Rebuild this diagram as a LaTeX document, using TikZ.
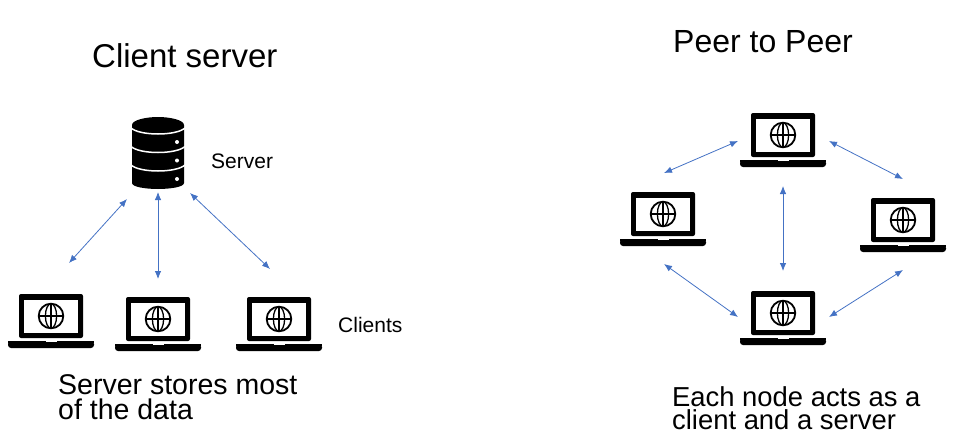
\documentclass[tikz,border=0pt]{standalone}
\usepackage{fontspec}
\setmainfont{Liberation Sans}
\usetikzlibrary{arrows.meta}
\definecolor{linkblue}{HTML}{4472C4}
\tikzset{
  x=1pt,y=-1pt,
  link/.style={linkblue,line width=0.8pt,{Latex[length=8pt,width=6.5pt]}-{Latex[length=8pt,width=6.5pt]}},
  txt/.style={anchor=base west,inner sep=0pt,text=black},
  labelfont/.style={font=\fontsize{21}{24}\selectfont},
  captionbox/.style={align=left,anchor=south west,inner sep=0pt,text=black},
  laptop/.pic={
    \fill[black,rounded corners=2pt] (-32,44) -- (-32,0) -- (32,0) -- (32,44) -- cycle;
    \fill[white] (-27,5.5) rectangle (27,38.5);
    \fill[black,rounded corners=3pt] (-43,47) -- (-43,54) -- (43,54) -- (43,47) -- cycle;
    \fill[black] (-43,47) rectangle (43,49);
    \fill[white] (-5.5,47) rectangle (5.5,48.3);
    \draw[black,line width=1.8pt] (0,22) circle (12.3);
    \draw[black,line width=1.3pt] (0,22) ellipse (5.6 and 12.3);
    \draw[black,line width=1.3pt] (0,9.7) -- (0,34.3) (-12.3,22) -- (12.3,22);
  }
}
\begin{document}
\begin{tikzpicture}
\useasboundingbox (0,0) rectangle (963,442);
% titles
\node[txt,font=\fontsize{33}{36}\selectfont] (ctitle) at (92,67) {Client server};
\node[txt,font=\fontsize{32}{36}\selectfont] (ptitle) at (673,52) {Peer to Peer};
% server icon
\fill[black] (132,125) .. controls (132,120) and (146,117) .. (158,117) .. controls (170,117) and (184,120) .. (184,125)
  -- (184,183) .. controls (184,187) and (170,189) .. (158,189) .. controls (146,189) and (132,187) .. (132,183) -- cycle;
\foreach \yy in {128,146.5,165}{
  \draw[white,line width=1.5pt] (131,\yy) .. controls (140,{\yy+8}) and (176,{\yy+8}) .. (185,\yy);
}
\foreach \yy in {142,160.5,179}{
  \fill[white] (177,\yy) circle (2);
}
\node[txt,labelfont] (serverlabel) at (211,168) {Server};
% client laptops
\pic (clientA) at (51,294) {laptop};
\pic (clientB) at (158,297) {laptop};
\pic (clientC) at (279,297) {laptop};
\node[txt,labelfont] (clientslabel) at (338,332) {Clients};
\node[captionbox,font=\fontsize{28.5}{25}\selectfont] (ccaption) at (58,420) {Server stores most\\of the data};
% client-server links
\coordinate (sA) at (127,199); \coordinate (cA) at (69,263);
\coordinate (sB) at (158,192); \coordinate (cB) at (158,279);
\coordinate (sC) at (190,193); \coordinate (cC) at (270,269);
\draw[link] (sA) -- (cA);
\draw[link] (sB) -- (cB);
\draw[link] (sC) -- (cC);
% peers
\pic (peerT) at (783,113) {laptop};
\pic (peerL) at (663,192) {laptop};
\pic (peerR) at (903,198) {laptop};
\pic (peerB) at (783,291) {laptop};
\node[captionbox,font=\fontsize{27.4}{23}\selectfont] (pcaption) at (672,430) {Each node acts as a\\client and a server};
% peer links
\coordinate (tl) at (738,141); \coordinate (lt) at (664,173);
\coordinate (tr) at (829,141); \coordinate (rt) at (903,179);
\coordinate (tb) at (783,186); \coordinate (bt) at (783,271);
\coordinate (lb) at (664,264); \coordinate (bl) at (738,317);
\coordinate (rb) at (903,270); \coordinate (br) at (829,317);
\draw[link] (tl) -- (lt);
\draw[link] (tr) -- (rt);
\draw[link] (tb) -- (bt);
\draw[link] (lb) -- (bl);
\draw[link] (rb) -- (br);
\end{tikzpicture}
\end{document}
